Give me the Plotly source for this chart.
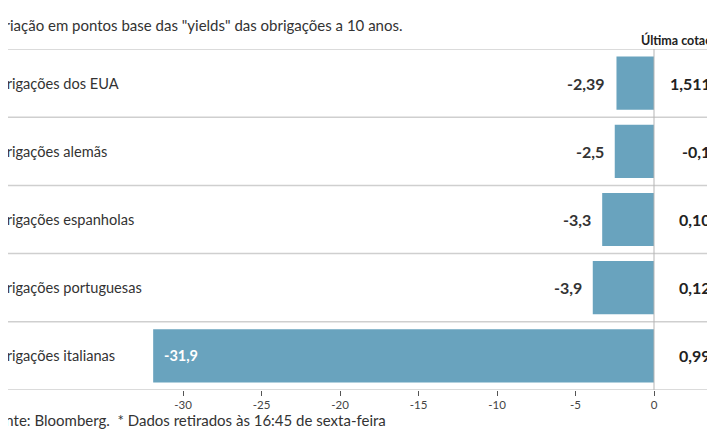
import plotly.graph_objects as go

categories = ["Obrigações dos EUA", "Obrigações alemãs", "Obrigações espanholas",
              "Obrigações portuguesas", "Obrigações italianas"]
variation = [-2.39, -2.5, -3.3, -3.9, -31.9]
variation_labels = ["-2,39", "-2,5", "-3,3", "-3,9", "-31,9"]
last_quote = ["1,5112", "-0,17", "0,105", "0,125", "0,998"]
tick_values = [-30, -25, -20, -15, -10, -5, 0]
tick_labels = ["-30", "-25", "-20", "-15", "-10", "-5", "0"]

FONT = "Lato"
BAR = "#69a3be"
OFF = 8              # page body margin
W, H = 715 - OFF, 445 - OFF
PLOT_TOP, PLOT_BOT = 49 - OFF, 390 - OFF
PLOT_H = PLOT_BOT - PLOT_TOP

ypos = list(range(len(categories)))

fig = go.Figure()
fig.add_trace(go.Bar(
    x=variation, y=ypos, orientation="h",
    marker=dict(color=BAR, line=dict(width=0)),
    width=0.78,
    textposition="none",
    hoverinfo="skip",
))

shapes = []
for k in range(len(categories) + 1):
    shapes.append(dict(type="line", xref="paper", yref="y", x0=0, x1=1,
                       y0=k - 0.5, y1=k - 0.5,
                       line=dict(color="#cfcfcf", width=1.5), layer="below"))
shapes.append(dict(type="line", xref="x", yref="paper", x0=0, x1=0, y0=0, y1=1,
                   line=dict(color="#b5b5b5", width=1), layer="above"))

ann = []
big = len(categories) - 1
for i, c in enumerate(categories):
    ann.append(dict(xref="paper", yref="y", x=-23 / W, y=i, text=c,
                    xanchor="left", yanchor="middle", showarrow=False,
                    font=dict(family=FONT, size=14.6, color="#333333")))
    ann.append(dict(xref="paper", yref="y", x=(722 - OFF) / W, y=i,
                    text=f"<b>{last_quote[i]}</b>",
                    xanchor="right", yanchor="middle", showarrow=False,
                    font=dict(family=FONT, size=16, color="#222222")))
    if i == big:
        ann.append(dict(xref="x", yref="y", x=variation[i], y=i,
                        text=f"<b>{variation_labels[i]}</b>", xshift=9,
                        xanchor="left", yanchor="middle", showarrow=False,
                        font=dict(family=FONT, size=14.5, color="white")))
    else:
        ann.append(dict(xref="x", yref="y", x=variation[i], y=i,
                        text=f"<b>{variation_labels[i]}</b>", xshift=-9,
                        xanchor="right", yanchor="middle", showarrow=False,
                        font=dict(family=FONT, size=16, color="#333333")))

ann.append(dict(xref="paper", yref="paper", x=-22 / W, y=1 + 24 / PLOT_H,
                text='Variação em pontos base das "yields" das obrigações a 10 anos.',
                xanchor="left", yanchor="middle", showarrow=False,
                font=dict(family=FONT, size=15, color="#333333")))
ann.append(dict(xref="paper", yref="paper", x=(639 - OFF) / W, y=1 + 9 / PLOT_H,
                text="<b>Última cotação*</b>",
                xanchor="left", yanchor="middle", showarrow=False,
                font=dict(family=FONT, size=12.5, color="#222222")))
ann.append(dict(xref="paper", yref="paper", x=-21 / W, y=-30 / PLOT_H,
                text="Fonte: Bloomberg.  * Dados retirados às 16:45 de sexta-feira",
                xanchor="left", yanchor="middle", showarrow=False,
                font=dict(family=FONT, size=15, color="#333333")))

px_per_unit = 15.7
zero_px = 654 - OFF
x_min = -zero_px / px_per_unit
x_max = (W - zero_px) / px_per_unit

fig.update_layout(
    width=W, height=H,
    margin=dict(l=0, r=0, t=PLOT_TOP, b=H - PLOT_BOT, pad=0),
    paper_bgcolor="white", plot_bgcolor="white",
    showlegend=False,
    shapes=shapes, annotations=ann,
    xaxis=dict(range=[x_min, x_max], tickvals=tick_values, ticktext=tick_labels,
               ticks="outside", ticklen=5, tickwidth=1, tickcolor="#555555",
               ticklabelstandoff=-1,
               showgrid=False, zeroline=False, showline=False,
               tickfont=dict(family=FONT, size=11.5, color="#444444"), fixedrange=True),
    yaxis=dict(range=[len(categories) - 0.5, -0.5], showticklabels=False,
               showgrid=False, zeroline=False, showline=False, ticks="", fixedrange=True),
    font=dict(family=FONT),
)

fig.write_html("out.html")
